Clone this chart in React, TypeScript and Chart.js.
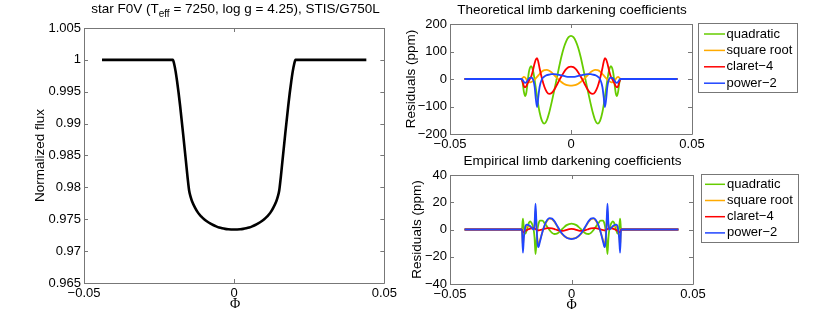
import { useEffect, useRef } from 'react';
import { Chart, registerables } from 'chart.js';

Chart.register(...registerables);

const FAMILY = '"Liberation Sans", Arial, Helvetica, sans-serif';
const FONT = `13px ${FAMILY}`;
const TITLEFONT = `13.5px ${FAMILY}`;
const SUBFONT = `10px ${FAMILY}`;
const PHIFONT = `14px "Liberation Serif", "DejaVu Serif", serif`;
const AXIS_COLOR = '#777777';

// ---------- shared tick data ----------
const phaseTicks = [-0.05, 0, 0.05];
const phaseTickLabels = ['\u22120.05', '0', '0.05'];

// ---------- left panel: light curve ----------
const lcYTicks = [0.965, 0.97, 0.975, 0.98, 0.985, 0.99, 0.995, 1, 1.005];
const lcYTickLabels = ['0.965', '0.97', '0.975', '0.98', '0.985', '0.99', '0.995', '1', '1.005'];
const lcPhase = [
  -0.044, -0.0204, -0.02, -0.0195, -0.019, -0.0185, -0.018, -0.017, -0.016, -0.0155, -0.015, -0.0145, -0.014,
  -0.013, -0.012, -0.011, -0.01, -0.009, -0.008, -0.007, -0.006, -0.005, -0.004, -0.003, -0.002, -0.001, 0,
  0.001, 0.002, 0.003, 0.004, 0.005, 0.006, 0.007, 0.008, 0.009, 0.01, 0.011, 0.012, 0.013, 0.014, 0.0145,
  0.015, 0.0155, 0.016, 0.017, 0.018, 0.0185, 0.019, 0.0195, 0.02, 0.0204, 0.044,
];
const lcFlux = [
  1, 1, 0.9994, 0.9982, 0.9966, 0.9948, 0.9928, 0.9884, 0.9838, 0.9815, 0.9795, 0.9785, 0.9778,
  0.9768, 0.976, 0.97545, 0.975, 0.97465, 0.97435, 0.9741, 0.97388, 0.9737, 0.97358, 0.97349, 0.97343, 0.9734, 0.97339,
  0.9734, 0.97343, 0.97349, 0.97358, 0.9737, 0.97388, 0.9741, 0.97435, 0.97465, 0.975, 0.97545, 0.976, 0.9768, 0.9778, 0.9785,
  0.9795, 0.9815, 0.9838, 0.9884, 0.9928, 0.9948, 0.9966, 0.9982, 0.9994, 1, 1,
];

// ---------- series names / colours ----------
const seriesNames = ['quadratic', 'square root', 'claret\u22124', 'power\u22122'];
const seriesColors = ['#66cc00', '#ffaa00', '#ff0000', '#1f45ff'];

// ---------- top right: theoretical residuals (ppm) ----------
const theoYTicks = [-200, -100, 0, 100, 200];
const theoYTickLabels = ['\u2212200', '\u2212100', '0', '100', '200'];
const theoPhase = [
  -0.044, -0.0205, -0.02, -0.0195, -0.019, -0.0185, -0.018, -0.0175, -0.017, -0.0165, -0.016, -0.0155, -0.015,
  -0.0145, -0.014, -0.0135, -0.013, -0.012, -0.011, -0.01, -0.009, -0.008, -0.007, -0.006, -0.005, -0.004,
  -0.003, -0.002, -0.001, 0, 0.001, 0.002, 0.003, 0.004, 0.005, 0.006, 0.007, 0.008, 0.009, 0.01, 0.011,
  0.012, 0.013, 0.0135, 0.014, 0.0145, 0.015, 0.0155, 0.016, 0.0165, 0.017, 0.0175, 0.018, 0.0185, 0.019,
  0.0195, 0.02, 0.0205, 0.044,
];
const theoQuadratic = [
  0, 0, -12, -45, -62, -52, -18, 20, 40, 47, 40, 22, -5, -35, -65, -95, -120, -152, -162, -150, -122, -85, -45, -3, 40, 80, 113, 137, 152, 157,
  152, 137, 113, 80, 40, -3, -45, -85, -122, -150, -162, -152, -120, -95, -65, -35, -5, 22, 40, 47, 40, 20, -18, -52, -62, -45, -12, 0, 0,
];
const theoSquareRoot = [
  0, 0, 4, 8, 6, 0, -6, -10, -12, -11, -9, -6, -2, 3, 8, 13, 18, 27, 32, 33, 30, 24, 15, 6, -3, -11, -17, -21, -23, -24,
  -23, -21, -17, -11, -3, 6, 15, 24, 30, 33, 32, 27, 18, 13, 8, 3, -2, -6, -9, -11, -12, -10, -6, 0, 6, 8, 4, 0, 0,
];
const theoClaret4 = [
  0, 0, -10, -25, -30, -26, -17, -8, 0, 8, 22, 40, 58, 71, 76, 62, 40, 2, -28, -47, -54, -51, -40, -24, -7, 9, 24, 36, 43, 45,
  43, 36, 24, 9, -7, -24, -40, -51, -54, -47, -28, 2, 40, 62, 76, 71, 58, 40, 22, 8, 0, -8, -17, -26, -30, -25, -10, 0, 0,
];
const theoPower2 = [
  0, 0, -3, -10, -14, -12, -6, 1, 4, 5, 3, -6, -30, -75, -102, -65, -30, 0, 9, 14, 16, 18, 18, 17, 15, 13, 11, 9, 8, 8,
  8, 9, 11, 13, 15, 17, 18, 18, 16, 14, 9, 0, -30, -65, -102, -75, -30, -6, 3, 5, 4, 1, -6, -12, -14, -10, -3, 0, 0,
];

// ---------- bottom right: empirical residuals (ppm) ----------
const empYTicks = [-40, -20, 0, 20, 40];
const empYTickLabels = ['\u221240', '\u221220', '0', '20', '40'];
const empPhase = [
  -0.044, -0.0204, -0.02, -0.0196, -0.019, -0.0185, -0.018, -0.0175, -0.017, -0.0165, -0.016, -0.0155, -0.0152,
  -0.0148, -0.0144, -0.014, -0.0136, -0.013, -0.012, -0.011, -0.01, -0.009, -0.008, -0.007, -0.006, -0.005,
  -0.004, -0.003, -0.002, -0.001, 0, 0.001, 0.002, 0.003, 0.004, 0.005, 0.006, 0.007, 0.008, 0.009, 0.01,
  0.011, 0.012, 0.013, 0.0136, 0.014, 0.0144, 0.0148, 0.0152, 0.0155, 0.016, 0.0165, 0.017, 0.0175, 0.018,
  0.0185, 0.019, 0.0196, 0.02, 0.0204, 0.044,
];
const empQuadratic = [
  0, 0, 8, 1, -3, -1, 2, 5, 6, 5, 3, -1, -6, -18, -9, 0, 4, 6.5, 6.5, 4.5, 2, -0.5, -2.5, -3.3, -3, -1.8, 0, 1.8, 3.2, 4, 4.3,
  4, 3.2, 1.8, 0, -1.8, -3, -3.3, -2.5, -0.5, 2, 4.5, 6.5, 6.5, 4, 0, -9, -18, -6, -1, 3, 5, 6, 5, 2, -1, -3, 1, 8, 0, 0,
];
const empSquareRoot = [
  0, 0, -12, -4, 1, 2, 2.5, 2.5, 2, 1.5, 1, 0.5, 3, 14, 3, -8, -11, -8, -2, 3, 6.5, 8, 7.5, 5.5, 2.5, -0.5, -3, -4.8, -6, -6.6, -6.8,
  -6.6, -6, -4.8, -3, -0.5, 2.5, 5.5, 7.5, 8, 6.5, 3, -2, -8, -11, -8, 3, 14, 3, 0.5, 1, 1.5, 2, 2.5, 2.5, 2, 1, -4, -12, 0, 0,
];
const empClaret4 = [
  0, 0, -2, -1.8, -1, -0.5, 0, 0.3, 0.6, 0.8, 1, 1, 0.8, 0.3, -0.2, -0.5, -0.6, -0.5, 0, 0.6, 1, 1, 0.8, 0.3, -0.3, -0.8, -1, -0.8, -0.3, 0.2, 0.4,
  0.2, -0.3, -0.8, -1, -0.8, -0.3, 0.3, 0.8, 1, 1, 0.6, 0, -0.5, -0.6, -0.5, -0.2, 0.3, 0.8, 1, 1, 0.8, 0.6, 0.3, 0, -0.5, -1, -1.8, -2, 0, 0,
];
const empPower2 = [
  0, 0, -17, -6, 2, 3.5, 3.5, 3, 2.5, 1.5, 0.5, 0, 4, 19, 3, -10, -13, -9, -2, 3.5, 7, 8.3, 8, 6, 3, 0, -2.8, -4.7, -6, -6.7, -7,
  -6.7, -6, -4.7, -2.8, 0, 3, 6, 8, 8.3, 7, 3.5, -2, -9, -13, -10, 3, 19, 4, 0, 0.5, 1.5, 2.5, 3, 3.5, 3.5, 2, -6, -17, 0, 0,
];

type Series = { label: string; xs: number[]; ys: number[]; color: string; width: number; order: number };
type TitlePart = { t: string; sub?: boolean };
type Spec = {
  left: number; top: number; W: number; H: number;
  area: { left: number; top: number; right: number; bottom: number };
  xMin: number; xMax: number; yMin: number; yMax: number;
  xTicks: number[]; xTickLabels: string[]; yTicks: number[]; yTickLabels: string[];
  series: Series[];
  title: { parts: TitlePart[]; x: number; y: number };
  xLabel: { text: string; x: number; y: number };
  yLabel: { text: string; x: number; y: number };
  legend?: { box: [number, number, number, number]; rows: number[]; lineX: [number, number]; textX: number };
};

function makeDecor(spec: Spec) {
  return {
    id: 'decor',
    afterDraw(chart: any) {
      const ctx: CanvasRenderingContext2D = chart.ctx;
      const { left, top, right, bottom } = chart.chartArea;
      const xs = chart.scales.x;
      const ys = chart.scales.y;
      ctx.save();
      // box and inward ticks
      ctx.strokeStyle = AXIS_COLOR;
      ctx.lineWidth = 1;
      ctx.beginPath();
      ctx.rect(Math.round(left) + 0.5, Math.round(top) + 0.5, Math.round(right - left), Math.round(bottom - top));
      ctx.stroke();
      const TL = 4;
      ctx.beginPath();
      spec.xTicks.forEach((v) => {
        const px = Math.round(xs.getPixelForValue(v)) + 0.5;
        ctx.moveTo(px, bottom); ctx.lineTo(px, bottom - TL);
        ctx.moveTo(px, top); ctx.lineTo(px, top + TL);
      });
      spec.yTicks.forEach((v) => {
        const py = Math.round(ys.getPixelForValue(v)) + 0.5;
        ctx.moveTo(left, py); ctx.lineTo(left + TL, py);
        ctx.moveTo(right, py); ctx.lineTo(right - TL, py);
      });
      ctx.stroke();

      ctx.fillStyle = '#000';
      // title with optional subscript
      let total = 0;
      spec.title.parts.forEach((p) => {
        ctx.font = p.sub ? SUBFONT : TITLEFONT;
        total += ctx.measureText(p.t).width;
      });
      let cx = spec.title.x - total / 2;
      ctx.textAlign = 'left';
      ctx.textBaseline = 'alphabetic';
      spec.title.parts.forEach((p) => {
        ctx.font = p.sub ? SUBFONT : TITLEFONT;
        ctx.fillText(p.t, cx, spec.title.y + (p.sub ? 4 : 0));
        cx += ctx.measureText(p.t).width;
      });

      // x label
      ctx.font = PHIFONT;
      ctx.textAlign = 'center';
      ctx.fillText(spec.xLabel.text, spec.xLabel.x, spec.xLabel.y);

      // y label (rotated)
      ctx.save();
      ctx.translate(spec.yLabel.x, spec.yLabel.y);
      ctx.rotate(-Math.PI / 2);
      ctx.font = TITLEFONT;
      ctx.textAlign = 'center';
      ctx.fillText(spec.yLabel.text, 0, 0);
      ctx.restore();

      // legend
      if (spec.legend) {
        const lg = spec.legend;
        const [bx, by, bw, bh] = lg.box;
        ctx.fillStyle = '#fff';
        ctx.fillRect(bx, by, bw, bh);
        ctx.strokeStyle = AXIS_COLOR;
        ctx.lineWidth = 1;
        ctx.strokeRect(Math.round(bx) + 0.5, Math.round(by) + 0.5, Math.round(bw), Math.round(bh));
        spec.series.forEach((s, i) => {
          const y = lg.rows[i];
          ctx.strokeStyle = s.color;
          ctx.lineWidth = 1.5;
          ctx.beginPath();
          ctx.moveTo(lg.lineX[0], y);
          ctx.lineTo(lg.lineX[1], y);
          ctx.stroke();
          ctx.fillStyle = '#000';
          ctx.font = FONT;
          ctx.textAlign = 'left';
          ctx.textBaseline = 'middle';
          ctx.fillText(s.label, lg.textX, y);
        });
      }
      ctx.restore();
    },
  };
}

function buildConfig(spec: Spec): any {
  const tickFont = { family: FAMILY, size: 13 };
  return {
    type: 'line',
    data: {
      datasets: spec.series.map((s) => ({
        label: s.label,
        data: s.xs.map((x, j) => ({ x, y: s.ys[j] })),
        borderColor: s.color,
        borderWidth: s.width,
        pointRadius: 0,
        fill: false,
        cubicInterpolationMode: 'monotone',
        order: s.order,
      })),
    },
    options: {
      responsive: false,
      animation: false,
      devicePixelRatio: 1,
      events: [],
      layout: { padding: { left: 0, top: spec.area.top, right: spec.W - spec.area.right, bottom: 0 } },
      plugins: { legend: { display: false }, tooltip: { enabled: false }, title: { display: false } },
      scales: {
        x: {
          type: 'linear',
          min: spec.xMin,
          max: spec.xMax,
          afterBuildTicks: (scale: any) => { scale.ticks = spec.xTicks.map((v) => ({ value: v })); },
          afterFit: (scale: any) => { scale.height = spec.H - spec.area.bottom; },
          grid: { display: false, drawTicks: false },
          border: { display: false },
          ticks: {
            autoSkip: false, maxRotation: 0, minRotation: 0, padding: 3, font: tickFont, color: '#000',
            callback: (_v: any, i: number) => spec.xTickLabels[i],
          },
        },
        y: {
          type: 'linear',
          min: spec.yMin,
          max: spec.yMax,
          afterBuildTicks: (scale: any) => { scale.ticks = spec.yTicks.map((v) => ({ value: v })); },
          afterFit: (scale: any) => { scale.width = spec.area.left; },
          grid: { display: false, drawTicks: false },
          border: { display: false },
          ticks: {
            autoSkip: false, padding: 3, font: tickFont, color: '#000',
            callback: (_v: any, i: number) => spec.yTickLabels[i],
          },
        },
      },
    },
    plugins: [makeDecor(spec)],
  };
}

function makeSeries(xs: number[], ysList: number[][]): Series[] {
  return ysList.map((ys, i) => ({
    label: seriesNames[i], xs, ys, color: seriesColors[i], width: 1.8, order: 3 - i,
  }));
}

const leftSpec: Spec = {
  left: 0, top: 0, W: 400, H: 319,
  area: { left: 84, top: 28, right: 386, bottom: 283 },
  xMin: -0.05, xMax: 0.05, yMin: 0.965, yMax: 1.005,
  xTicks: phaseTicks, xTickLabels: phaseTickLabels, yTicks: lcYTicks, yTickLabels: lcYTickLabels,
  series: [{ label: 'light curve', xs: lcPhase, ys: lcFlux, color: '#000', width: 2.6, order: 0 }],
  title: { parts: [{ t: 'star F0V (T' }, { t: 'eff', sub: true }, { t: ' = 7250, log g = 4.25), STIS/G750L' }], x: 235.5, y: 12.5 },
  xLabel: { text: '\u03A6', x: 235, y: 308 },
  yLabel: { text: 'Normalized flux', x: 43.5, y: 155.5 },
};

const topSpec: Spec = {
  left: 395, top: 0, W: 435, H: 150,
  area: { left: 55, top: 24, right: 297, bottom: 134 },
  xMin: -0.05, xMax: 0.05, yMin: -200, yMax: 200,
  xTicks: phaseTicks, xTickLabels: phaseTickLabels, yTicks: theoYTicks, yTickLabels: theoYTickLabels,
  series: makeSeries(theoPhase, [theoQuadratic, theoSquareRoot, theoClaret4, theoPower2]),
  title: { parts: [{ t: 'Theoretical limb darkening coefficients' }], x: 177, y: 13.5 },
  xLabel: { text: '', x: 176, y: 160 },
  yLabel: { text: 'Residuals (ppm)', x: 19.5, y: 79 },
  legend: { box: [303, 23, 99, 69], rows: [34, 50.4, 66.8, 83.2], lineX: [309, 330], textX: 331.5 },
};

const bottomSpec: Spec = {
  left: 395, top: 150, W: 435, H: 169,
  area: { left: 55, top: 25, right: 298, bottom: 134 },
  xMin: -0.05, xMax: 0.05, yMin: -40, yMax: 40,
  xTicks: phaseTicks, xTickLabels: phaseTickLabels, yTicks: empYTicks, yTickLabels: empYTickLabels,
  series: makeSeries(empPhase, [empQuadratic, empSquareRoot, empClaret4, empPower2]),
  title: { parts: [{ t: 'Empirical limb darkening coefficients' }], x: 177.5, y: 15 },
  xLabel: { text: '\u03A6', x: 176.5, y: 159 },
  yLabel: { text: 'Residuals (ppm)', x: 25.5, y: 79.5 },
  legend: { box: [306, 24, 97, 68], rows: [34.3, 50.5, 66.7, 82.9], lineX: [310, 330], textX: 332 },
};

function Panel({ spec }: { spec: Spec }) {
  const ref = useRef<HTMLCanvasElement>(null);
  useEffect(() => {
    const chart = new Chart(ref.current as HTMLCanvasElement, buildConfig(spec));
    return () => chart.destroy();
  }, [spec]);
  return (
    <canvas
      ref={ref}
      width={spec.W}
      height={spec.H}
      style={{ position: 'absolute', left: spec.left, top: spec.top, width: spec.W, height: spec.H }}
    />
  );
}

export default function App() {
  return (
    <div style={{ position: 'absolute', left: 0, top: 0, width: 830, height: 319, background: '#fff', overflow: 'hidden' }}>
      <Panel spec={leftSpec} />
      <Panel spec={topSpec} />
      <Panel spec={bottomSpec} />
    </div>
  );
}
